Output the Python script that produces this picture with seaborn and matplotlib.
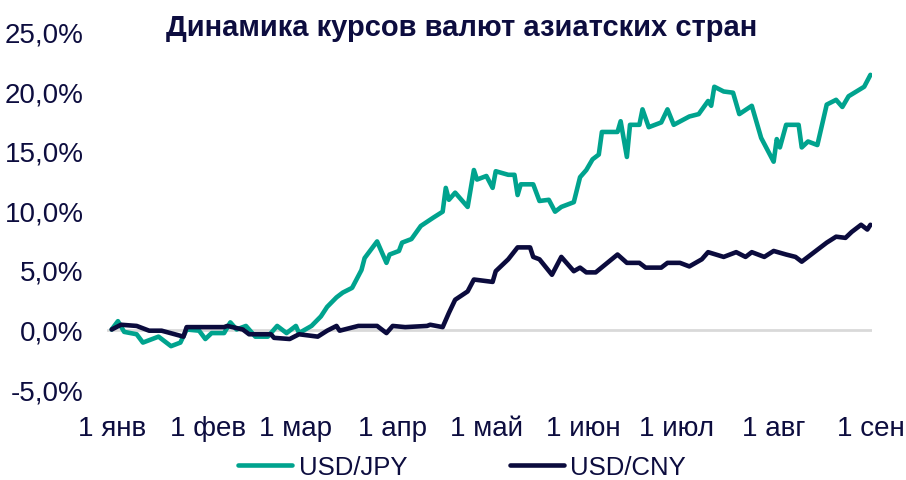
import pandas as pd
import numpy as np
import matplotlib.pyplot as plt
import seaborn as sns

# day offsets from 1 Jan 2022 and change in %
jpy_day = [0, 2, 4, 8, 10, 15, 19, 22, 24, 28, 30, 32, 36, 38, 40, 43, 46, 50, 53, 56,
           59, 60, 64, 67, 69, 72, 74, 77, 80, 81, 85, 88, 89, 92, 93, 96, 99, 103, 106,
           107, 108, 110, 114, 116, 117, 120, 122, 123, 127, 129, 130, 131, 135, 137, 140,
           142, 144, 148, 150, 152, 154, 156, 157, 162, 163, 165, 166, 169, 170, 172, 176,
           178, 180, 185, 188, 191, 192, 193, 196, 199, 201, 205, 208, 212, 213, 214, 216,
           220, 221, 223, 226, 229, 232, 234, 236, 241, 243]
jpy_val = [0.0, 0.7, -0.2, -0.4, -1.1, -0.6, -1.4, -1.1, 0.0, -0.1, -0.8, -0.3, -0.3, 0.6,
           0.0, 0.3, -0.6, -0.6, 0.3, -0.3, 0.3, -0.3, 0.3, 1.1, 1.9, 2.7, 3.1, 3.5, 5.0, 6.0,
           7.4, 5.6, 6.3, 6.6, 7.3, 7.6, 8.7, 9.4, 9.9, 11.9, 10.9, 11.5, 10.3, 13.4, 12.6,
           12.9, 11.9, 13.3, 13.0, 13.0, 11.3, 12.2, 12.2, 10.8, 10.9, 9.9, 10.3, 10.7, 12.8,
           13.4, 14.3, 14.7, 16.6, 16.6, 17.5, 14.5, 17.2, 17.2, 18.5, 17.0, 17.4, 18.5, 17.2,
           17.9, 18.1, 19.2, 18.8, 20.4, 20.0, 19.9, 18.1, 18.8, 16.1, 14.1, 16.0, 15.3, 17.2,
           17.2, 15.3, 15.8, 15.5, 18.9, 19.3, 18.7, 19.6, 20.4, 21.4]

cny_day = [0, 3, 8, 12, 16, 23, 24, 36, 37, 42, 44, 51, 52, 57, 60, 66, 69, 72, 73, 79,
           85, 88, 90, 94, 101, 102, 106, 108, 110, 114, 116, 122, 123, 127, 130, 134,
           135, 137, 141, 144, 148, 150, 152, 155, 162, 165, 169, 171, 176, 178, 182, 185,
           189, 191, 196, 200, 203, 205, 209, 212, 216, 219, 221, 223, 227, 229, 232, 235,
           237, 240, 242, 243]
cny_val = [0.0, 0.4, 0.3, -0.1, -0.1, -0.6, 0.2, 0.2, 0.3, 0.0, -0.4, -0.4, -0.7, -0.8,
           -0.4, -0.6, -0.1, 0.3, -0.1, 0.3, 0.3, -0.3, 0.3, 0.2, 0.3, 0.4, 0.2, 1.4,
           2.5, 3.2, 4.2, 4.0, 4.9, 5.9, 6.9, 6.9, 6.1, 5.9, 4.6, 6.1, 4.9, 5.2, 4.8, 4.8,
           6.3, 5.6, 5.6, 5.2, 5.2, 5.6, 5.6, 5.3, 5.9, 6.5, 6.1, 6.5, 6.1, 6.5, 6.1, 6.6,
           6.3, 6.1, 5.7, 6.1, 6.9, 7.3, 7.8, 7.7, 8.2, 8.8, 8.4, 8.8]

month_labels = ['1 янв', '1 фев', '1 мар', '1 апр', '1 май', '1 июн', '1 июл', '1 авг', '1 сен']
y_ticks = [-5, 0, 5, 10, 15, 20, 25]

start = pd.Timestamp('2022-01-01')
jpy = pd.DataFrame({'date': start + pd.to_timedelta(jpy_day, unit='D'), 'val': jpy_val})
cny = pd.DataFrame({'date': start + pd.to_timedelta(cny_day, unit='D'), 'val': cny_val})

sns.set_style('white')
plt.rcParams['font.family'] = ['Liberation Sans', 'DejaVu Sans']

teal = '#00A38E'
navy = '#0B0B3D'
txt = '#0D0D3F'

fig = plt.figure(figsize=(9.06, 4.81), dpi=100)
ax = fig.add_axes([107 / 906, 1 - 390 / 481, (872 - 107) / 906, (390 - 33) / 481])

ax.axhline(0, color='#D9D9D9', lw=2, zorder=1)
sns.lineplot(data=jpy, x='date', y='val', ax=ax, color=teal, lw=3.3, label='USD/JPY')
sns.lineplot(data=cny, x='date', y='val', ax=ax, color=navy, lw=3.3, label='USD/CNY')

ax.set_ylim(-5, 25)
ax.set_yticks(y_ticks)
ax.set_yticklabels([f'{v:.1f}%'.replace('.', ',') for v in y_ticks])
ticks = pd.date_range('2022-01-01', '2022-09-01', freq='MS')
ax.set_xticks(ticks)
ax.set_xticklabels(month_labels)
ax.set_xlim(start - pd.Timedelta(days=1.5), pd.Timestamp('2022-09-01') + pd.Timedelta(days=0.5))
ax.set_xlabel('')
ax.set_ylabel('')
for s in ax.spines.values():
    s.set_visible(False)
ax.tick_params(axis='y', length=0, pad=17, labelsize=20, labelcolor=txt)
ax.tick_params(axis='x', length=0, pad=19, labelsize=20, labelcolor=txt)

fig.text(0.51, 1 - 28 / 481, 'Динамика курсов валют азиатских стран', ha='center',
         va='center', fontsize=21, fontweight='bold', color=txt)

ax.legend(loc='center', bbox_to_anchor=(0.51, 1 - 468 / 481), bbox_transform=fig.transFigure,
          ncol=2, frameon=False, fontsize=18.5, handlelength=2.1, handletextpad=0.25,
          columnspacing=4.0, labelcolor=txt)

fig.savefig('out.png', dpi=100)
